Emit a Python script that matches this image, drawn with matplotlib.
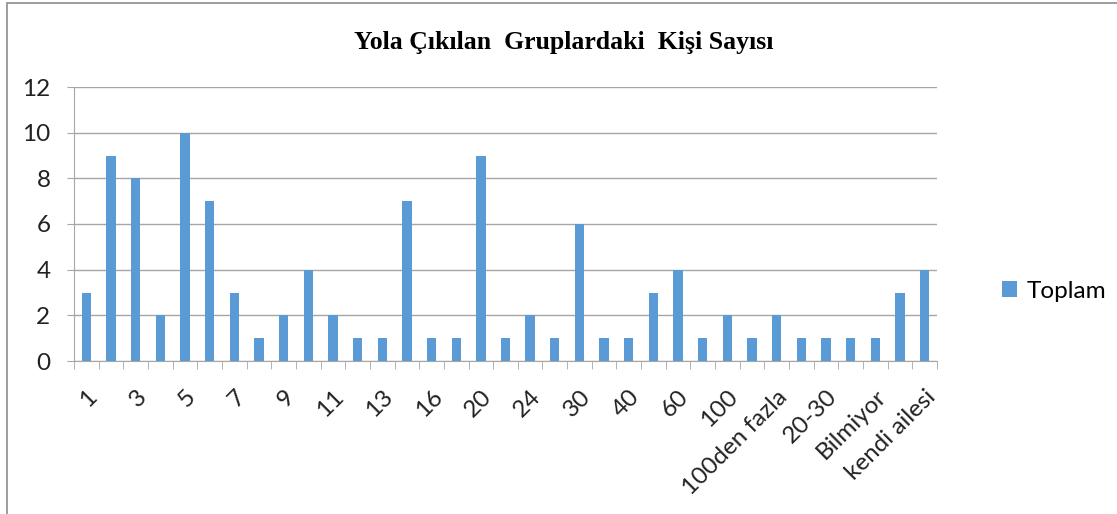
import numpy as np
import matplotlib
matplotlib.use("Agg")
import matplotlib.pyplot as plt
from matplotlib.patches import Rectangle

# group sizes (only every other label is shown, like the original)
categories = ["1", "2", "3", "4", "5", "6", "7", "8", "9", "10",
              "11", "12", "13", "15", "16", "18", "20", "22", "24", "25",
              "30", "35", "40", "50", "60", "80", "100", "150",
              "100den fazla", "15-20", "20-30", "30-40", "Bilmiyor",
              "Tek", "kendi ailesi"]
toplam = [3, 9, 8, 2, 10, 7, 3, 1, 2, 4,
          2, 1, 1, 7, 1, 1, 9, 1, 2, 1,
          6, 1, 1, 3, 4, 1, 2, 1, 2, 1,
          1, 1, 1, 3, 4]
yticks = [0, 2, 4, 6, 8, 10, 12]

bar_color = "#5b9bd5"
grid_color = "#a6a6a6"
text_font = ["Lato", "DejaVu Sans"]

fig = plt.figure(figsize=(11.17, 5.14), dpi=100)
fig.patches.append(Rectangle((7 / 1117, -0.1), 1.2, 1 - 3 / 514 + 0.1,
                             transform=fig.transFigure, fill=False,
                             edgecolor="#8c8c8c", linewidth=1.2))

ax = fig.add_axes([74 / 1117, 1 - 361 / 514, 863 / 1117, 274 / 514])
x = np.arange(len(categories))
ax.bar(x, toplam, width=0.38, color=bar_color, label="Toplam", zorder=3)

ax.set_xlim(-0.5, len(categories) - 0.5)
ax.set_ylim(0, 12)
ax.set_yticks(yticks)
ax.set_yticklabels([str(v) for v in yticks], fontsize=17.5, family=text_font,
                   color="#222222")
ax.yaxis.grid(True, color=grid_color, linewidth=1)
ax.set_axisbelow(True)
ax.tick_params(axis="y", length=5, color=grid_color, pad=12)

ax.set_xticks(x[::2])
ax.set_xticklabels(categories[::2], rotation=45, ha="right",
                   rotation_mode="anchor", fontsize=17.5, family=text_font,
                   color="#222222")
ax.tick_params(axis="x", which="major", length=0, pad=18)
ax.set_xticks(np.arange(-0.5, len(categories)), minor=True)
ax.tick_params(axis="x", which="minor", length=6, color=grid_color)

for side in ["top", "right"]:
    ax.spines[side].set_visible(False)
for side in ["left", "bottom"]:
    ax.spines[side].set_color(grid_color)

fig.text(564 / 1117, 1 - 42 / 514, "Yola Çıkılan  Gruplardaki  Kişi Sayısı",
         ha="center", va="center", family="Liberation Serif",
         fontweight="bold", fontsize=18.5)

leg = ax.legend(loc="center left", bbox_to_anchor=(1.05, 0.255), frameon=False,
                prop={"family": text_font, "size": 17.5},
                handlelength=0.6, handleheight=0.6, handletextpad=0.4)

fig.savefig("out.png", dpi=100)
